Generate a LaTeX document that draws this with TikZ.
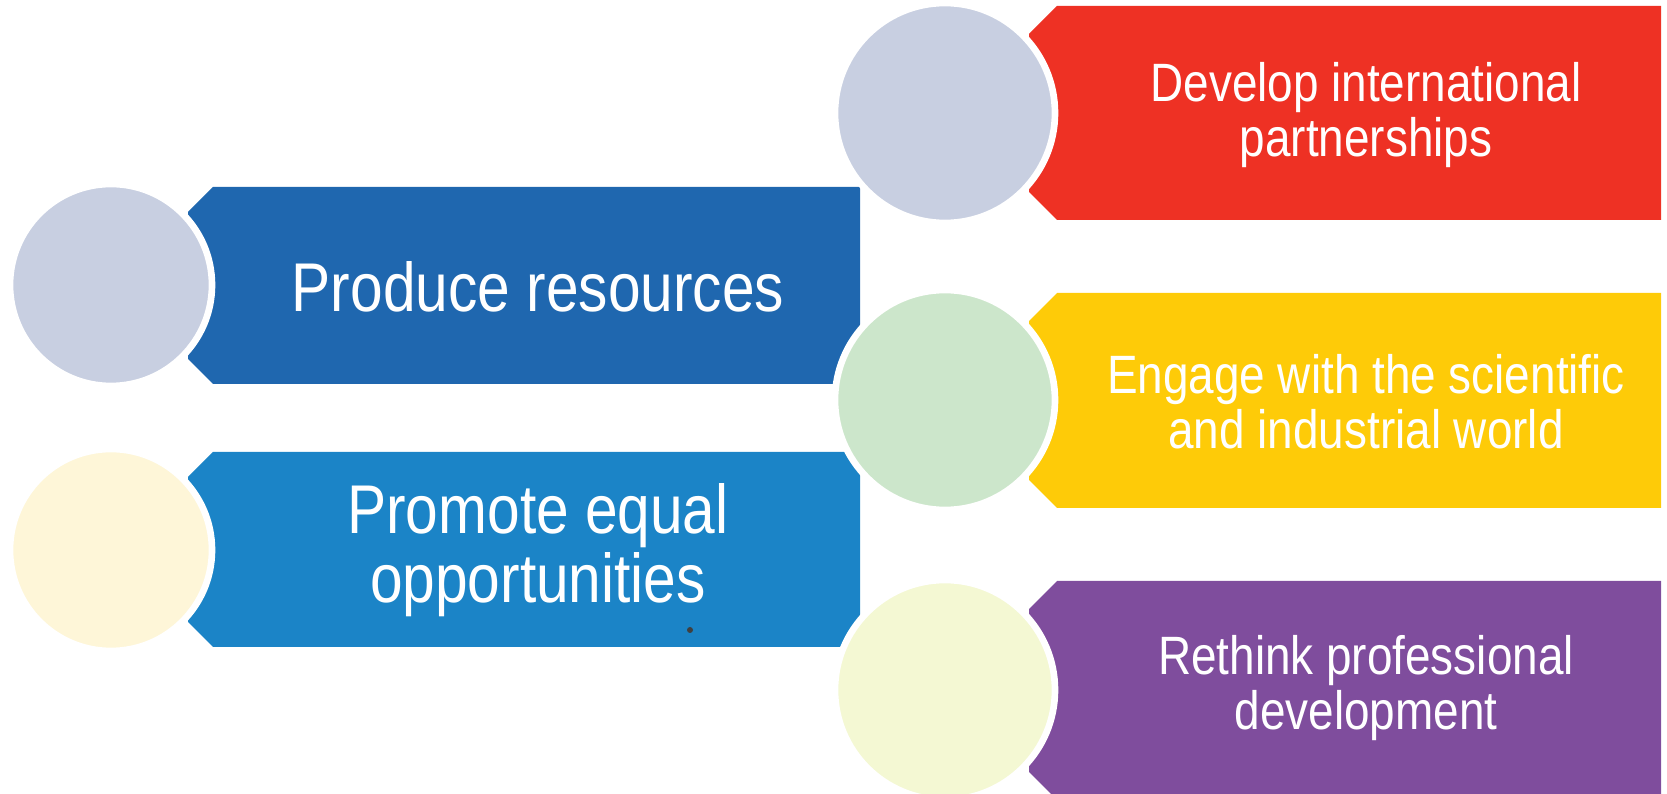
\documentclass[tikz,border=0pt]{standalone}
\usepackage{fontspec}
\setmainfont{Liberation Sans}[FakeStretch=0.85]
\usepackage{tikz}
\definecolor{resblue}{HTML}{1F67AF}
\definecolor{eqblue}{HTML}{1B84C7}
\definecolor{intred}{HTML}{EE3124}
\definecolor{sciyellow}{HTML}{FECB08}
\definecolor{devpurple}{HTML}{7F4D9D}
\definecolor{discgrey}{HTML}{C8CFE1}
\definecolor{disccream}{HTML}{FEF6D8}
\definecolor{discgreen}{HTML}{CCE6CB}
\definecolor{disclime}{HTML}{F4F8D3}
\tikzset{
  goaldisc/.style={circle,draw=white,line width=2pt,inner sep=0pt,outer sep=0pt},
  smalldisc/.style={goaldisc,minimum size=60.6pt},
  bigdisc/.style={goaldisc,minimum size=66pt},
  bigtext/.style={text=white,align=center,inner sep=0pt,
    font=\fontsize{20.7}{20.7}\selectfont},
  smalltext/.style={text=white,align=center,inner sep=0pt,
    font=\fontsize{16.2}{16.4}\selectfont}
}

\begin{document}
\begin{tikzpicture}[x=0.3pt,y=-0.3pt]
  \useasboundingbox (0,0) rectangle (1667,794);
  % left column
  \fill[resblue] (213,187) -- (860,187) -- (860,384) -- (213,384) -- (188,359) -- (188,212) -- cycle;
  \fill[eqblue] (213,452) -- (860,452) -- (860,647) -- (213,647) -- (188,622) -- (188,477) -- cycle;
  \node[smalldisc,fill=discgrey] (resdisc) at (111,285) {};
  \node[smalldisc,fill=disccream] (eqdisc) at (111,550) {};
  % right column
  \fill[intred] (1057,6) -- (1661,6) -- (1661,220) -- (1057,220) -- (1029,192) -- (1029,34) -- cycle;
  \fill[sciyellow] (1057,293) -- (1661,293) -- (1661,508) -- (1057,508) -- (1029,480) -- (1029,321) -- cycle;
  \fill[devpurple] (1057,581) -- (1661,581) -- (1661,800) -- (1057,800) -- (1029,772) -- (1029,609) -- cycle;
  \node[bigdisc,fill=discgrey] (intdisc) at (945,113) {};
  \node[bigdisc,fill=discgreen] (scidisc) at (945,400) {};
  \node[bigdisc,fill=disclime] (devdisc) at (945,690) {};
  % labels
  \node[bigtext] (res) at (538,287) {Produce resources};
  \node[bigtext] (eq) at (538,550) {Promote equal\\opportunities};
  \node[smalltext] (int) at (1366,115) {Develop international\\partnerships};
  \node[smalltext] (sci) at (1366,402) {Engage with the scientific\\and industrial world};
  \node[smalltext] (dev) at (1366,688) {Rethink professional\\development};
  \fill[black!75] (690,630) circle (3) coordinate (speck);
\end{tikzpicture}
\end{document}
